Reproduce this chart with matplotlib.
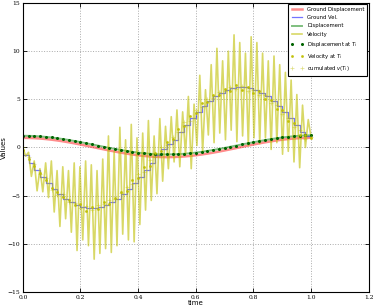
import numpy as np
import matplotlib
matplotlib.use('Agg')
import matplotlib.pyplot as plt

# step grid T_i (50 steps of 0.02)
t_steps = np.linspace(0.0, 1.0, 51)

ground_disp = [1.0, 0.992, 0.969, 0.930, 0.876, 0.809, 0.729, 0.637, 0.536, 0.426,
               0.309, 0.187, 0.063, -0.063, -0.187, -0.309, -0.426, -0.536, -0.637, -0.729,
               -0.809, -0.876, -0.930, -0.969, -0.992, -1.0, -0.992, -0.969, -0.930, -0.876,
               -0.809, -0.729, -0.637, -0.536, -0.426, -0.309, -0.187, -0.063, 0.063, 0.187,
               0.309, 0.426, 0.536, 0.637, 0.729, 0.809, 0.876, 0.930, 0.969, 0.992, 1.0]

displacement = [1.22, 1.21, 1.19, 1.15, 1.10, 1.04, 0.96, 0.87, 0.78, 0.67,
                0.56, 0.44, 0.32, 0.20, 0.08, -0.04, -0.15, -0.26, -0.36, -0.45,
                -0.53, -0.60, -0.65, -0.69, -0.71, -0.72, -0.71, -0.69, -0.65, -0.60,
                -0.53, -0.45, -0.36, -0.26, -0.15, -0.04, 0.08, 0.20, 0.32, 0.43,
                0.55, 0.66, 0.77, 0.87, 0.96, 1.04, 1.11, 1.17, 1.22, 1.25, 1.27]

ground_vel = [-0.79, -1.56, -2.31, -3.03, -3.69, -4.30, -4.84, -5.30, -5.69, -5.98,
              -6.17, -6.27, -6.27, -6.17, -5.98, -5.69, -5.30, -4.84, -4.30, -3.69,
              -3.03, -2.31, -1.56, -0.79, -0.2, 0.4, 0.79, 1.56, 2.31, 3.03,
              3.69, 4.30, 4.84, 5.30, 5.69, 5.98, 6.17, 6.27, 6.27, 6.17,
              5.98, 5.69, 5.30, 4.84, 4.30, 3.69, 3.03, 2.31, 1.56, 1.2, 1.2]

# velocity: one wiggle per step (trough, peak)
vel_troughs = [-0.9, -3.0, -4.5, -4.6, -5.2, -6.7, -8.2, -7.4, -8.8, -10.7,
               -9.6, -10.2, -11.6, -11.0, -10.5, -10.9, -10.2, -9.0, -9.6, -9.8,
               -8.0, -6.5, -5.5, -4.8, -3.5, -2.2, -1.5, -2.0, -0.8, -2.2,
               0.2, -0.5, 1.3, 0.5, 1.5, 0.8, 1.8, 0.6, 1.2, 0.2,
               1.0, 0.4, 1.0, -0.2, 0.5, -0.7, -0.4, -1.5, -2.1, 0.0]
vel_peaks = [-0.5, -1.4, -2.2, -1.6, -1.4, -2.4, -2.0, -2.4, -1.6, -2.0,
             -1.4, -1.8, -2.4, -1.2, 1.2, -0.4, 2.1, 0.8, 2.4, 1.0,
             1.5, 2.8, 1.2, 3.0, 2.2, 3.2, 3.9, 3.7, 5.3, 4.5,
             7.5, 6.0, 8.6, 10.3, 9.0, 10.0, 11.7, 10.9, 9.8, 11.5,
             10.9, 9.8, 9.0, 9.5, 8.6, 7.8, 7.0, 5.5, 4.4, 2.9]
vel_start = 0.0
vel_end = 1.0

vel_at_T = [-0.3, -1.2, -1.9, -2.6, -3.4, -4.2, -4.6, -5.1, -5.5, -6.0,
            -5.9, -6.6, -6.2, -6.4, -5.7, -5.9, -5.2, -4.6, -4.5, -3.4,
            -3.2, -2.0, -1.9, -0.6, -0.4, 0.6, 0.9, 1.9, 2.2, 3.3,
            3.6, 4.6, 4.7, 5.5, 5.4, 6.1, 5.9, 6.5, 6.0, 6.3,
            5.7, 5.9, 5.0, 4.9, 4.0, 3.9, 2.7, 2.5, 1.3, 1.3, 1.0]
cumulated_v = [0.0, -1.0, -1.7, -2.8, -3.2, -4.4, -4.9, -4.8, -5.7, -5.8,
               -6.3, -6.1, -6.5, -6.0, -5.9, -5.5, -5.4, -4.7, -4.1, -3.8,
               -2.8, -2.5, -1.3, -1.0, 0.1, 0.3, 1.1, 1.6, 2.6, 2.8,
               3.9, 4.2, 5.0, 5.1, 5.8, 5.9, 6.3, 6.1, 6.4, 5.9,
               6.0, 5.5, 5.4, 4.6, 4.4, 3.5, 3.1, 2.1, 1.8, 0.9, 1.1]

vel = [vel_start]
for tr, pk in zip(vel_troughs, vel_peaks):
    vel += [tr, pk]
vel.append(vel_end)
t_vel = np.linspace(0.0, 1.0, len(vel))

plt.rcParams['font.family'] = 'DejaVu Sans'
fig = plt.figure(figsize=(3.74, 3.06), dpi=100)
ax = fig.add_axes([0.061, 0.046, 0.925, 0.944])

ax.plot(t_steps, ground_disp, color='red', lw=1.8, alpha=0.45, label='Ground Displacement')
ax.plot(t_steps, ground_vel, color='blue', lw=0.9, alpha=0.55, drawstyle='steps-post', label='Ground Vel.')
ax.plot(t_steps, displacement, color='green', lw=1.4, alpha=0.5, label='Displacement')
ax.plot(t_vel, vel, color='y', lw=1.2, alpha=0.6, solid_joinstyle='round', label='Velocity')
ax.plot(t_steps, displacement, 'o', color='darkgreen', ms=1.2, mec='darkgreen', label='Displacement at $T_i$')
ax.plot(t_steps, vel_at_T, 'o', color='y', ms=1.1, mec='y', alpha=0.8, label='Velocity at $T_i$')
ax.plot(t_steps, cumulated_v, '+', color='y', ms=2.2, mew=0.5, alpha=0.5, label='cumulated $v(T_i)$')

ax.set_xlim(0, 1.2)
ax.set_ylim(-15, 15)
ax.set_xticks([0.0, 0.2, 0.4, 0.6, 0.8, 1.0, 1.2])
ax.set_yticks([-15, -10, -5, 0, 5, 10, 15])
ax.set_xticklabels(['0.0', '0.2', '0.4', '0.6', '0.8', '1.0', '1.2'], family='DejaVu Serif', fontsize=4.3)
ax.set_yticklabels(['\u221215', '\u221210', '\u22125', '0', '5', '10', '15'], family='DejaVu Serif', fontsize=4.3)
ax.tick_params(direction='in', length=3, width=0.6, pad=2, top=True, right=True)
ax.grid(True, linestyle=':', color='#aaaaaa', lw=0.7)
for s in ax.spines.values():
    s.set_linewidth(0.8)
ax.set_xlabel('time', fontsize=5, labelpad=0.5)
ax.set_ylabel('Values', fontsize=5, labelpad=0.5)

leg = ax.legend(loc='upper right', fontsize=3.8, numpoints=2, fancybox=False,
                framealpha=1, edgecolor='black', borderpad=0.5, labelspacing=0.6,
                handlelength=2.4, handletextpad=0.8, borderaxespad=0.25)
leg.get_frame().set_linewidth(0.8)

plt.savefig('out.png', dpi=100)
